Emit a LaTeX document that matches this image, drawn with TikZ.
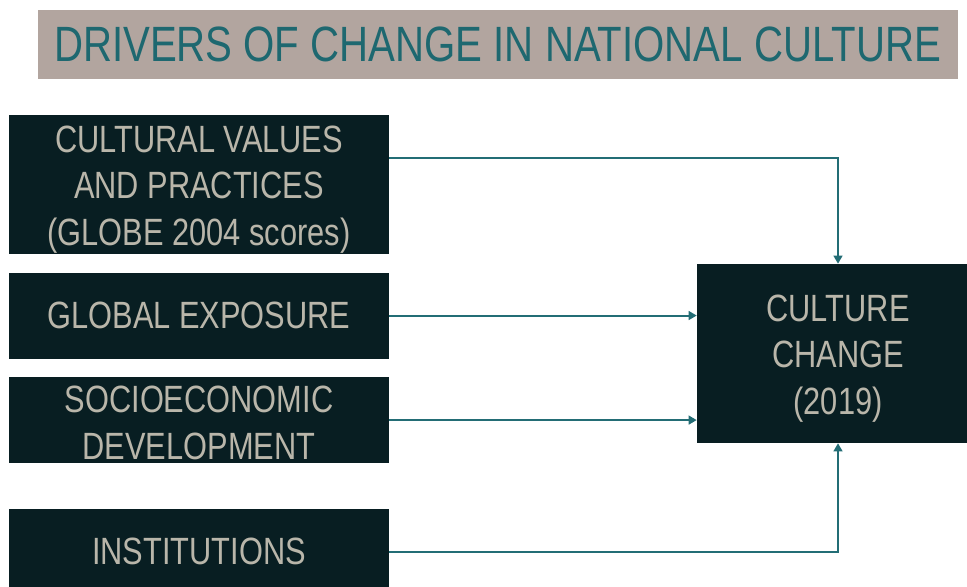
\documentclass[tikz,border=0pt]{standalone}
\usepackage{fontspec}
\setmainfont{Liberation Sans}[FakeStretch=0.81]
\usetikzlibrary{positioning, arrows.meta}
\definecolor{boxdark}{HTML}{081E22}
\definecolor{boxtext}{HTML}{B9B6AA}
\definecolor{titlefill}{HTML}{B2A59F}
\definecolor{titletext}{HTML}{1E6870}
\definecolor{linkteal}{HTML}{236D75}
\newcommand{\lowstrut}[1]{\rule{0pt}{#1}}
\tikzset{
	driver/.style = {fill=boxdark, text=boxtext, align=center, inner sep=0pt,
	 minimum width=285pt, minimum height=64.5pt,
	 font=\fontsize{28.5}{35}\selectfont}}
\tikzset{
	link/.style = {draw=linkteal, line width=1.5pt,
	 -{Triangle[length=6pt, width=6.5pt]}}}

\begin{document}
\begin{tikzpicture}[x=0.75pt, y=-0.75pt, node distance=13.5pt]
\useasboundingbox (0,0) rectangle (967,586);

% NODES
% title
\node (title) [fill=titlefill, text=titletext, minimum width=690pt, minimum height=51.75pt,
 inner sep=0pt, font=\fontsize{37.2}{45}\selectfont] at (497.5,44.5)
 {DRIVERS OF CHANGE IN NATIONAL CULTURE};
% drivers
\node (values) [driver, minimum height=104.25pt] at (199,184.5)
 {\lowstrut{27.5pt}CULTURAL VALUES\\AND PRACTICES\\(GLOBE 2004 scores)};
\node (exposure) [driver, below=of values] {GLOBAL EXPOSURE};
\node (socio) [driver, below=of exposure] {\lowstrut{24.5pt}SOCIOECONOMIC\\DEVELOPMENT};
\node (inst) [driver, below=33.75pt of socio] {INSTITUTIONS};
% outcome
\node (change) [driver, minimum width=211.5pt, minimum height=134.25pt] at (838,353.5)
 {\lowstrut{27.5pt}CULTURE\\CHANGE\\(2019)};

%CONNECTIONS
\draw [link] ([yshift=20pt]values.east) -| (change.north);
\draw [link] (exposure.east) -- (exposure.east -| change.west);
\draw [link] (socio.east) -- (socio.east -| change.west);
\draw [link] (inst.east) -| (change.south);

\end{tikzpicture}
\end{document}
